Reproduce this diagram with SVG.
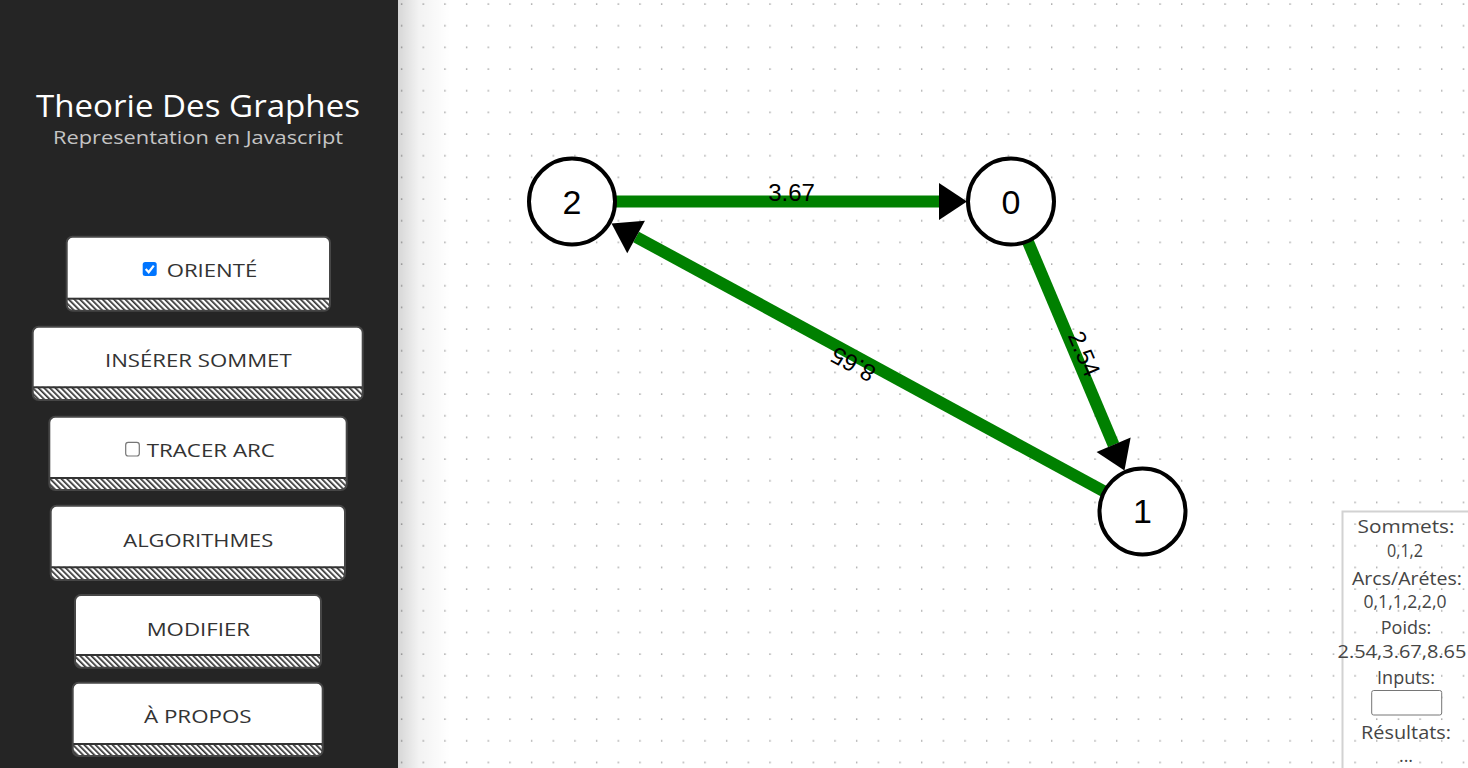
<svg xmlns="http://www.w3.org/2000/svg" width="1468" height="768" viewBox="0 0 1468 768">
<defs>
<pattern id="dots" patternUnits="userSpaceOnUse" width="21.67" height="21.67">
<rect x="10.9" y="3.4" width="1.3" height="1.3" fill="#8a8a8a"/>
</pattern>
<pattern id="stripes" patternUnits="userSpaceOnUse" width="4" height="4" patternTransform="rotate(-45)">
<rect width="4" height="4" fill="#fff"/>
<rect width="1.7" height="4" fill="#333"/>
</pattern>
<linearGradient id="shadow" x1="0" y1="0" x2="1" y2="0">
<stop offset="0" stop-color="#000" stop-opacity="0.16"/>
<stop offset="0.4" stop-color="#000" stop-opacity="0.05"/>
<stop offset="1" stop-color="#000" stop-opacity="0"/>
</linearGradient>
<marker id="arrow" markerUnits="userSpaceOnUse" markerWidth="29" markerHeight="38" refX="0" refY="18.5" orient="auto" overflow="visible">
<path d="M0,0 L28,18.5 L0,37 Z" fill="#000"/>
</marker>
<clipPath id="c1"><rect x="66.7" y="236.7" width="263.3" height="74" rx="6"/></clipPath>
<clipPath id="c2"><rect x="32.7" y="326.7" width="330" height="73.3" rx="6"/></clipPath>
<clipPath id="c3"><rect x="49.3" y="416.7" width="297.4" height="73.3" rx="6"/></clipPath>
<clipPath id="c4"><rect x="50.7" y="505.7" width="294.3" height="74.3" rx="6"/></clipPath>
<clipPath id="c5"><rect x="75" y="595" width="246" height="72.7" rx="6"/></clipPath>
<clipPath id="c6"><rect x="72.7" y="682.7" width="250" height="73.3" rx="6"/></clipPath>
<style>
.edge{stroke:#008000;stroke-width:12;fill:none;marker-end:url(#arrow)}
.node circle{fill:#fff;stroke:#000;stroke-width:4}
.node text{font-family:"Liberation Sans",Arial,sans-serif;font-size:34px;text-anchor:middle;fill:#000}
.elabel{font-family:"Liberation Sans",Arial,sans-serif;font-size:24px;text-anchor:middle;fill:#000}
.btn-bg{fill:url(#stripes)}
.btn-top{fill:#fff}
.btn-sep{fill:#333}
.btn-border{fill:none;stroke:#464646;stroke-width:2}
.btn-text{font-family:"Open Sans","Noto Sans",sans-serif;font-size:19px;fill:#333;text-anchor:middle}
.info{font-family:"Open Sans","Noto Sans",sans-serif;font-size:18px;fill:#454545;text-anchor:middle}
</style>
</defs>

<rect width="1468" height="768" fill="#fff"/>
<rect x="398" width="1070" height="768" fill="url(#dots)"/>
<rect x="398" width="52" height="768" fill="url(#shadow)"/>

<g id="sidebar">
<rect width="398" height="768" fill="#252525"/>
<text x="198" y="117" font-family="'Open Sans','Noto Sans',sans-serif" font-size="31" fill="#fff" text-anchor="middle" textLength="324" lengthAdjust="spacingAndGlyphs">Theorie Des Graphes</text>
<text x="198" y="144" font-family="'Open Sans','Noto Sans',sans-serif" font-size="19" fill="#c4c4c4" text-anchor="middle" textLength="290" lengthAdjust="spacingAndGlyphs">Representation en Javascript</text>
</g>

<g id="btn-oriente">
<g clip-path="url(#c1)">
<rect class="btn-bg" x="66.7" y="236.7" width="263.3" height="74"/>
<rect class="btn-top" x="66.7" y="236.7" width="263.3" height="62"/>
<rect class="btn-sep" x="66.7" y="297.7" width="263.3" height="2"/>
</g>
<rect class="btn-border" x="66.7" y="236.7" width="263.3" height="74" rx="6"/>
<rect x="142.7" y="262" width="14" height="14" rx="2.5" fill="#0075ff"/>
<path d="M145.7,269 L148.7,272.2 L153.8,265.6" fill="none" stroke="#fff" stroke-width="2.2"/>
<text class="btn-text" x="212" y="277.3" textLength="90.6" lengthAdjust="spacingAndGlyphs">ORIENTÉ</text>
</g>

<g id="btn-inserer">
<g clip-path="url(#c2)">
<rect class="btn-bg" x="32.7" y="326.7" width="330" height="73.3"/>
<rect class="btn-top" x="32.7" y="326.7" width="330" height="60"/>
<rect class="btn-sep" x="32.7" y="386.3" width="330" height="2"/>
</g>
<rect class="btn-border" x="32.7" y="326.7" width="330" height="73.3" rx="6"/>
<text class="btn-text" x="198.3" y="366.7" textLength="186.7" lengthAdjust="spacingAndGlyphs">INSÉRER SOMMET</text>
</g>

<g id="btn-tracer">
<g clip-path="url(#c3)">
<rect class="btn-bg" x="49.3" y="416.7" width="297.4" height="73.3"/>
<rect class="btn-top" x="49.3" y="416.7" width="297.4" height="61"/>
<rect class="btn-sep" x="49.3" y="477" width="297.4" height="2"/>
</g>
<rect class="btn-border" x="49.3" y="416.7" width="297.4" height="73.3" rx="6"/>
<rect x="125.7" y="442.4" width="13.6" height="13.6" rx="2.5" fill="#fff" stroke="#767676" stroke-width="1.2"/>
<text class="btn-text" x="210.8" y="456.7" textLength="128.3" lengthAdjust="spacingAndGlyphs">TRACER ARC</text>
</g>

<g id="btn-algorithmes">
<g clip-path="url(#c4)">
<rect class="btn-bg" x="50.7" y="505.7" width="294.3" height="74.3"/>
<rect class="btn-top" x="50.7" y="505.7" width="294.3" height="61"/>
<rect class="btn-sep" x="50.7" y="566.3" width="294.3" height="2"/>
</g>
<rect class="btn-border" x="50.7" y="505.7" width="294.3" height="74.3" rx="6"/>
<text class="btn-text" x="198.3" y="546.7" textLength="150" lengthAdjust="spacingAndGlyphs">ALGORITHMES</text>
</g>

<g id="btn-modifier">
<g clip-path="url(#c5)">
<rect class="btn-bg" x="75" y="595" width="246" height="72.7"/>
<rect class="btn-top" x="75" y="595" width="246" height="59.5"/>
<rect class="btn-sep" x="75" y="654" width="246" height="2"/>
</g>
<rect class="btn-border" x="75" y="595" width="246" height="72.7" rx="6"/>
<text class="btn-text" x="198.3" y="635.7" textLength="103.3" lengthAdjust="spacingAndGlyphs">MODIFIER</text>
</g>

<g id="btn-apropos">
<g clip-path="url(#c6)">
<rect class="btn-bg" x="72.7" y="682.7" width="250" height="73.3"/>
<rect class="btn-top" x="72.7" y="682.7" width="250" height="61"/>
<rect class="btn-sep" x="72.7" y="743" width="250" height="2"/>
</g>
<rect class="btn-border" x="72.7" y="682.7" width="250" height="73.3" rx="6"/>
<text class="btn-text" x="197.8" y="722.7" textLength="107.7" lengthAdjust="spacingAndGlyphs">À PROPOS</text>
</g>

<g id="connectors">
<line class="edge" x1="572" y1="201.5" x2="939" y2="201.5"/>
<line class="edge" x1="1011" y1="201.5" x2="1113.6" y2="444.8"/>
<line class="edge" x1="1142" y1="512" x2="636.1" y2="236.9"/>
<text class="elabel" x="791.5" y="201">3.67</text>
<text class="elabel" transform="translate(1076.5,357) rotate(67.09)" x="0" y="0">2.54</text>
<text class="elabel" transform="translate(857,357) rotate(-151.46)" x="0" y="0">8.65</text>
</g>

<g id="node-2" class="node">
<circle cx="572" cy="201.5" r="43"/>
<text x="572" y="213.5">2</text>
</g>
<g id="node-0" class="node">
<circle cx="1011" cy="201.5" r="43"/>
<text x="1011" y="213.5">0</text>
</g>
<g id="node-1" class="node">
<circle cx="1142.5" cy="511.5" r="43"/>
<text x="1142.5" y="522.5">1</text>
</g>

<g id="info-panel">
<path d="M1342.5,768 L1342.5,511.5 L1468,511.5" fill="none" stroke="#d2d2d2" stroke-width="2"/>
<text class="info" x="1406" y="533" textLength="97" lengthAdjust="spacingAndGlyphs">Sommets:</text>
<text class="info" x="1405" y="557" textLength="36" lengthAdjust="spacingAndGlyphs">0,1,2</text>
<text class="info" x="1407" y="584.5" textLength="110" lengthAdjust="spacingAndGlyphs">Arcs/Arétes:</text>
<text class="info" x="1405" y="608" textLength="83" lengthAdjust="spacingAndGlyphs">0,1,1,2,2,0</text>
<text class="info" x="1406" y="634">Poids:</text>
<text class="info" x="1402" y="658" textLength="129" lengthAdjust="spacingAndGlyphs">2.54,3.67,8.65</text>
<text class="info" x="1406" y="684">Inputs:</text>
<rect x="1371.7" y="690.5" width="70" height="24.5" rx="2" fill="#fff" stroke="#767676" stroke-width="1"/>
<text class="info" x="1406" y="739" textLength="90" lengthAdjust="spacingAndGlyphs">Résultats:</text>
<text class="info" x="1406" y="762">...</text>
</g>
</svg>
